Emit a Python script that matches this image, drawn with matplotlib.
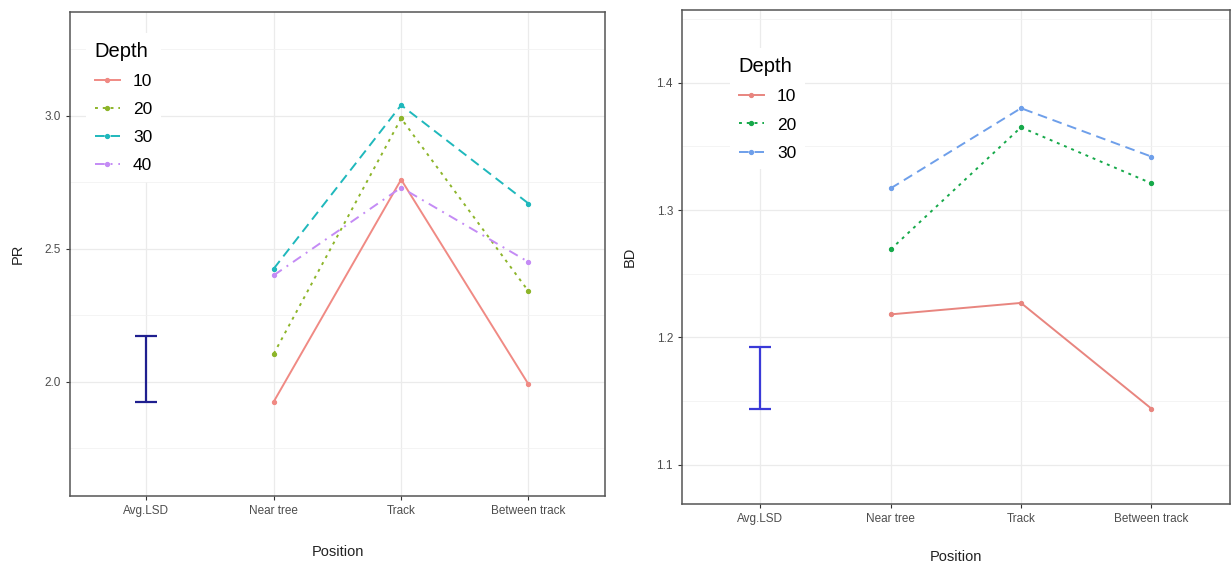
import matplotlib.pyplot as plt

plt.rcParams['font.family'] = ['Liberation Sans', 'DejaVu Sans']

positions = ["Avg.LSD", "Near tree", "Track", "Between track"]

# PR panel (Near tree, Track, Between track)
pr_depths = ["10", "20", "30", "40"]
pr_10 = [1.925, 2.76, 1.99]
pr_20 = [2.105, 2.99, 2.34]
pr_30 = [2.425, 3.04, 2.67]
pr_40 = [2.40, 2.73, 2.45]
pr_lsd = [1.925, 2.17]

# BD panel
bd_depths = ["10", "20", "30"]
bd_10 = [1.218, 1.227, 1.144]
bd_20 = [1.269, 1.365, 1.321]
bd_30 = [1.317, 1.380, 1.342]
bd_lsd = [1.144, 1.192]

pr_colors = ["#F08A84", "#8DB52A", "#1FB8BC", "#C48BF5"]
bd_colors = ["#E8857F", "#16A94A", "#6E9FEA"]
pr_styles = ["-", (0, (1.5, 2.5)), (0, (5, 3)), (0, (5, 3, 1, 3))]
bd_styles = ["-", (0, (1.5, 2.5)), (0, (5, 3))]


def style_axes(ax, ylim, major, minor, ylabel, xpad):
	ax.set_xlim(-0.6, 3.6)
	ax.set_ylim(*ylim)
	ax.set_xticks(range(len(positions)))
	ax.set_xticklabels(positions)
	ax.set_yticks(major)
	ax.set_yticklabels(["%.1f" % v for v in major])
	ax.set_yticks(minor, minor=True)
	ax.tick_params(axis='y', which='minor', length=0)
	ax.tick_params(which='major', length=3, color='#333333', labelsize=8.5, labelcolor='#4D4D4D')
	ax.grid(True, which='major', color='#EBEBEB', lw=0.9)
	ax.grid(True, which='minor', axis='y', color='#F2F2F2', lw=0.6)
	ax.set_axisbelow(True)
	for s in ax.spines.values():
		s.set_color('#555555')
		s.set_linewidth(1.1)
	ax.set_xlabel("Position", fontsize=10.5, color='#222222', labelpad=xpad)
	ax.set_ylabel(ylabel, fontsize=10.5, color='#222222', labelpad=14)


def draw_panel(ax, series, depths, colors, styles, lsd, lsd_color):
	x = [1, 2, 3]
	for vals, d, c, ls in zip(series, depths, colors, styles):
		ax.plot(x, vals, color=c, linestyle=ls, lw=1.4, marker='o', ms=2.8, label=d)
	mid = (lsd[0] + lsd[1]) / 2
	ax.errorbar([0], [mid], yerr=[[mid - lsd[0]], [lsd[1] - mid]], color=lsd_color,
		lw=1.6, capsize=8, capthick=1.6, fmt='none')


def add_legend(ax, anchor):
	leg = ax.legend(title="Depth", loc='upper left', bbox_to_anchor=anchor, frameon=True,
		fontsize=12.5, title_fontsize=14.5, handlelength=1.45, handletextpad=0.75,
		borderpad=0.5, labelspacing=0.75)
	leg.get_frame().set_edgecolor('none')
	leg.get_frame().set_facecolor('white')
	leg.get_frame().set_alpha(1.0)
	leg._legend_box.align = 'left'
	return leg


fig = plt.figure(figsize=(12.32, 5.66), dpi=100)
ax1 = fig.add_axes([0.0568, 0.1237, 0.4342, 0.855])
ax2 = fig.add_axes([0.5536, 0.1095, 0.4444, 0.8725])

draw_panel(ax1, [pr_10, pr_20, pr_30, pr_40], pr_depths, pr_colors, pr_styles, pr_lsd, '#1F1F8F')
style_axes(ax1, (1.57, 3.39), [2.0, 2.5, 3.0], [1.75, 2.25, 2.75, 3.25], "PR", 20)
add_legend(ax1, (0.014, 0.975))

draw_panel(ax2, [bd_10, bd_20, bd_30], bd_depths, bd_colors, bd_styles, bd_lsd, '#3A3AD8')
style_axes(ax2, (1.069, 1.457), [1.1, 1.2, 1.3, 1.4], [1.15, 1.25, 1.35, 1.45], "BD", 18)
add_legend(ax2, (0.072, 0.94))

fig.savefig("out.png", dpi=100)
